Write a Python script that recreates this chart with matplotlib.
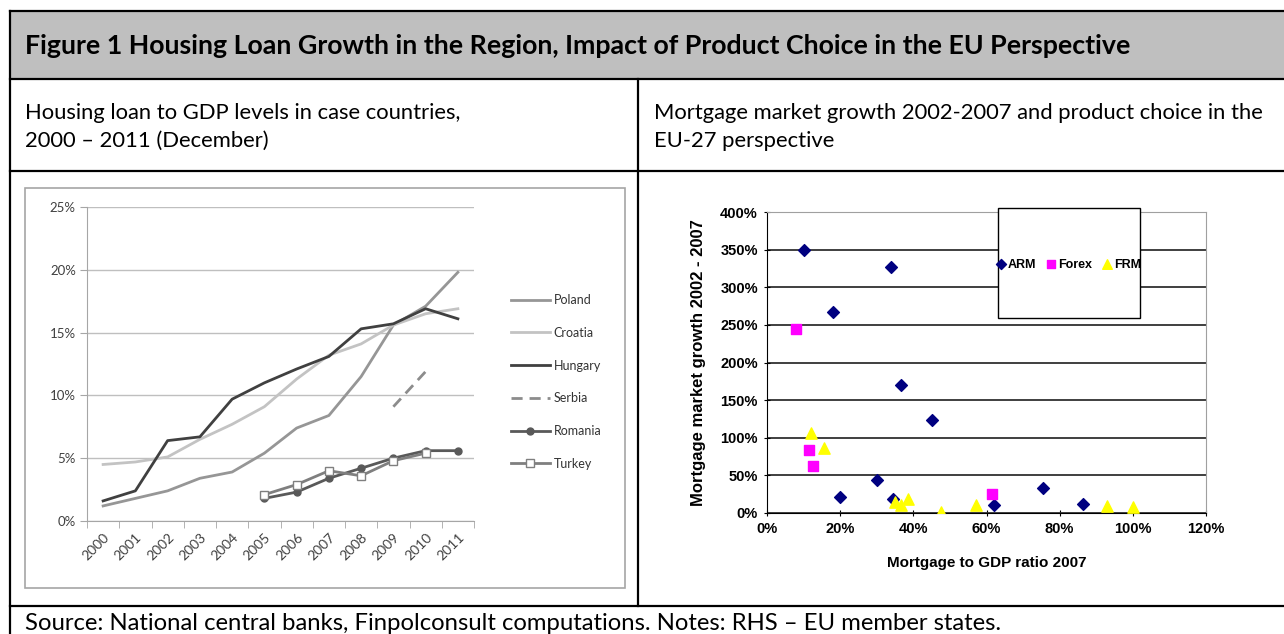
import numpy as np
import matplotlib.pyplot as plt
from matplotlib.lines import Line2D
from matplotlib.patches import Rectangle
from matplotlib.ticker import FuncFormatter

# left panel: housing loan to GDP (%)
years = ['2000', '2001', '2002', '2003', '2004', '2005',
         '2006', '2007', '2008', '2009', '2010', '2011']
nan = np.nan
poland = [1.2, 1.8, 2.4, 3.4, 3.9, 5.4, 7.4, 8.4, 11.5, 15.6, 17.1, 19.8]
croatia = [4.5, 4.7, 5.1, 6.5, 7.7, 9.1, 11.3, 13.2, 14.1, 15.6, 16.5, 16.9]
hungary = [1.6, 2.4, 6.4, 6.7, 9.7, 11.0, 12.1, 13.1, 15.3, 15.7, 16.9, 16.1]
serbia = [nan, nan, nan, nan, nan, nan, nan, nan, nan, 9.1, 11.9, nan]
romania = [nan, nan, nan, nan, nan, 1.8, 2.3, 3.4, 4.2, 5.0, 5.6, 5.6]
turkey = [nan, nan, nan, nan, nan, 2.1, 2.9, 4.0, 3.6, 4.8, 5.4, nan]

# right panel: mortgage to GDP 2007 (x, %) vs growth 2002-2007 (y, %)
arm_x = [10, 34, 18, 36.5, 45, 30, 20, 34.5, 62, 75.5, 86.5]
arm_y = [350, 327, 267, 170, 123, 44, 21, 19, 10, 33, 12]
forex_x = [8, 11.5, 12.5, 61.5]
forex_y = [244, 84, 62, 25]
frm_x = [12, 15.5, 35, 36.5, 38.5, 47.5, 57, 93, 100]
frm_y = [106, 87, 15, 11, 19, 1, 11, 9, 8]

W, H = 1284, 634
TXT = 'Lato'
ARIAL = 'Liberation Sans'


def fx(px):
    return px / W


def fy(py):
    return 1 - py / H


def box(l, t, r, b):
    return [fx(l), fy(b), (r - l) / W, (b - t) / H]


def hline(y, x0, x1):
    fig.add_artist(Line2D([fx(x0), fx(x1)], [fy(y), fy(y)], color='black',
                          lw=1.6, transform=fig.transFigure))


def vline(x, y0, y1):
    fig.add_artist(Line2D([fx(x), fx(x)], [fy(y0), fy(y1)], color='black',
                          lw=1.6, transform=fig.transFigure))


fig = plt.figure(figsize=(W / 100, H / 100), dpi=100)

# table layout
fig.patches.append(Rectangle((fx(10), fy(79)), 1 - fx(10), 68 / H,
                             transform=fig.transFigure,
                             facecolor='#bfbfbf', edgecolor='none'))
hline(11, 10, W)
hline(79, 10, W)
hline(171, 10, W)
hline(606, 10, W)
vline(10, 11, H)
vline(638, 79, 606)

fig.text(fx(25), fy(46), 'Figure 1 Housing Loan Growth in the Region, Impact of '
         'Product Choice in the EU Perspective', family=TXT, weight='bold',
         fontsize=19.3, va='center', ha='left')
fig.text(fx(25), fy(113), 'Housing loan to GDP levels in case countries,',
         family=TXT, fontsize=15.8, va='center')
fig.text(fx(25), fy(141), '2000 \u2013 2011 (December)',
         family=TXT, fontsize=15.8, va='center')
fig.text(fx(654), fy(113), 'Mortgage market growth 2002-2007 and product '
         'choice in the', family=TXT, fontsize=15.8, va='center')
fig.text(fx(654), fy(141), 'EU-27 perspective',
         family=TXT, fontsize=15.8, va='center')
fig.text(fx(25), fy(624), 'Source: National central banks, Finpolconsult '
         'computations. Notes: RHS \u2013 EU member states.',
         family=TXT, fontsize=17.2, va='center')

# ---- left chart ----
fig.patches.append(Rectangle((fx(25), fy(588)), 600 / W, 400 / H,
                             transform=fig.transFigure, facecolor='none',
                             edgecolor='#a6a6a6', lw=1.2))
ax1 = fig.add_axes(box(87, 207, 474, 521))
ind = np.arange(len(years))
ax1.plot(ind, poland, color='#969696', lw=2, label='Poland')
ax1.plot(ind, croatia, color='#c3c3c3', lw=2, label='Croatia')
ax1.plot(ind, hungary, color='#404040', lw=2, label='Hungary')
ax1.plot(ind, serbia, color='#8c8c8c', lw=2, ls=(0, (4, 2.5)), label='Serbia')
ax1.plot(ind, romania, color='#595959', lw=2, marker='o', ms=5,
         label='Romania')
ax1.plot(ind, turkey, color='#7f7f7f', lw=2, marker='s', ms=6,
         mfc='white', mec='#7f7f7f', label='Turkey')

ax1.set_xlim(-0.5, len(years) - 0.5)
ax1.set_ylim(0, 25)
ax1.set_yticks(np.arange(0, 26, 5))
ax1.yaxis.set_major_formatter(FuncFormatter(lambda v, p: '%d%%' % v))
ax1.yaxis.grid(True, color='#bfbfbf', lw=1)
ax1.set_axisbelow(True)
ax1.set_xticks(ind)
ax1.set_xticklabels(years, rotation=45, ha='right', va='top',
                    rotation_mode='anchor')
ax1.set_xticks(np.arange(-0.5, len(years)), minor=True)
ax1.tick_params(axis='x', which='major', length=0, pad=7)
ax1.tick_params(axis='x', which='minor', length=5, color='#a6a6a6')
ax1.tick_params(axis='y', length=5, color='#a6a6a6', pad=3)
for lab in ax1.get_yticklabels():
    lab.set_family(TXT)
    lab.set_fontsize(9.5)
    lab.set_color('#404040')
for lab in ax1.get_xticklabels():
    lab.set_family(TXT)
    lab.set_fontsize(10)
    lab.set_color('#404040')
for s in ['top', 'right']:
    ax1.spines[s].set_visible(False)
for s in ['left', 'bottom']:
    ax1.spines[s].set_color('#a6a6a6')

ax1.legend(loc='upper left', bbox_to_anchor=(fx(511), fy(294)),
           bbox_transform=fig.transFigure, frameon=False, borderpad=0,
           borderaxespad=0, handlelength=3.1, handletextpad=0.3,
           labelspacing=1.66, prop={'family': TXT, 'size': 9},
           labelcolor='#333333')

# ---- right chart ----
ax2 = fig.add_axes(box(767, 212, 1206, 513))
ax2.scatter(arm_x, arm_y, marker='D', s=36, color='#000080', zorder=3,
            label='ARM')
ax2.scatter(forex_x, forex_y, marker='s', s=48, color='#ff00ff', zorder=3,
            label='Forex')
ax2.scatter(frm_x, frm_y, marker='^', s=66, color='#ffff00', zorder=3,
            label='FRM')
ax2.set_xlim(0, 120)
ax2.set_ylim(0, 400)
ax2.set_xticks(np.arange(0, 121, 20))
ax2.set_yticks(np.arange(0, 401, 50))
ax2.xaxis.set_major_formatter(FuncFormatter(lambda v, p: '%d%%' % v))
ax2.yaxis.set_major_formatter(FuncFormatter(lambda v, p: '%d%%' % v))
ax2.yaxis.grid(True, color='#303030', lw=1.3)
ax2.set_axisbelow(True)
ax2.get_ygridlines()[-1].set_visible(False)
ax2.tick_params(direction='inout', length=5, color='black', pad=4)
for lab in ax2.get_xticklabels() + ax2.get_yticklabels():
    lab.set_family(ARIAL)
    lab.set_weight('bold')
    lab.set_fontsize(10.5)
for s in ['top', 'right']:
    ax2.spines[s].set_color('#a0a0a0')
ax2.set_xlabel('Mortgage to GDP ratio 2007', family=ARIAL, weight='bold',
               fontsize=11, va='top')
ax2.xaxis.set_label_coords(0.5, -0.143)
ax2.set_ylabel('Mortgage market growth 2002 - 2007', family=ARIAL,
               weight='bold', fontsize=12)
ax2.yaxis.set_label_coords(-0.139, 0.5)

ax2.add_patch(Rectangle((0.526, 0.648), 0.324, 0.365, transform=ax2.transAxes,
                        facecolor='white', edgecolor='black', lw=1,
                        clip_on=False, zorder=4))
ax2.legend(loc='center', bbox_to_anchor=(0.688, 0.825), ncol=3,
           frameon=False, handlelength=0.6, handletextpad=0.25,
           columnspacing=0.9, borderpad=0, markerscale=0.85,
           prop={'family': ARIAL, 'weight': 'bold', 'size': 9})

plt.savefig('out.png', dpi=100)
